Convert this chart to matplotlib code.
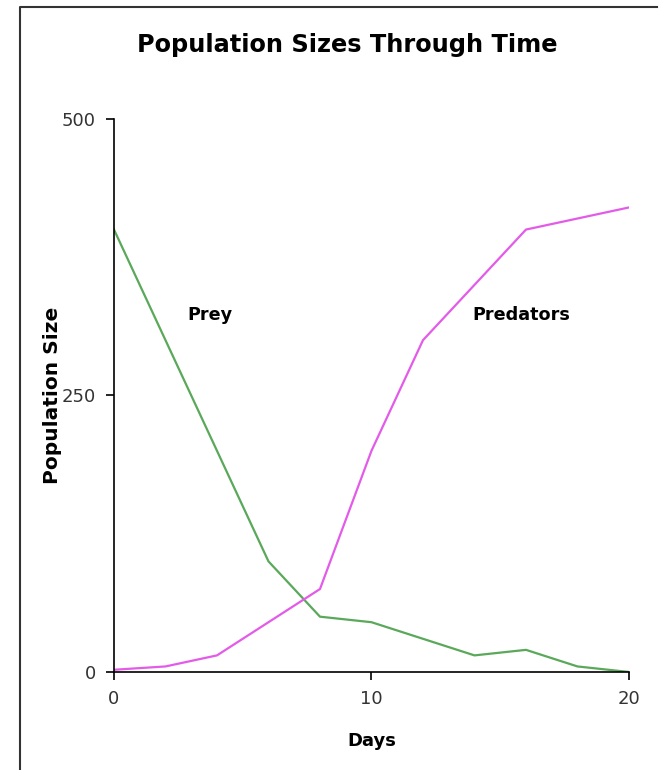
import matplotlib
matplotlib.use("Agg")
import matplotlib.pyplot as plt
from matplotlib.lines import Line2D

days = [0, 2, 4, 6, 8, 10, 12, 14, 16, 18, 20]
prey = [400, 300, 200, 100, 50, 45, 30, 15, 20, 5, 0]
predators = [2, 5, 15, 45, 75, 200, 300, 350, 400, 410, 420]
y_ticks = [0, 250, 500]
x_ticks = [0, 10, 20]

fig = plt.figure(figsize=(6.6, 7.7), dpi=100)
ax = fig.add_axes([0.1727, 0.1273, 0.7803, 0.7182])

ax.plot(days, prey, color="#5aa85a", lw=1.6)
ax.plot(days, predators, color="#e35be8", lw=1.6)

ax.set_xlim(0, 20)
ax.set_ylim(0, 500)
ax.set_xticks(x_ticks)
ax.set_yticks(y_ticks)
ax.spines["top"].set_visible(False)
ax.spines["right"].set_visible(False)
for s in ["left", "bottom"]:
    ax.spines[s].set_linewidth(1.2)
ax.tick_params(direction="out", length=6, width=1.2, labelsize=13,
               labelcolor="#333333", pad=7)

ax.set_xlabel("Days", fontsize=13, fontweight="bold", labelpad=17)
ax.set_ylabel("Population Size", fontsize=14.5, fontweight="bold", labelpad=0)

ax.text(3.73, 323, "Prey", fontsize=12.7, fontweight="bold", ha="center", va="center")
ax.text(15.8, 323, "Predators", fontsize=12.7, fontweight="bold", ha="center", va="center")

fig.text(0.526, 0.941, "Population Sizes Through Time", fontsize=17.3,
         fontweight="bold", ha="center", va="center")

# outer frame, only top and left edges show
x0, y0 = 20 / 660, 1 - 7 / 770
fig.lines.append(Line2D([x0, x0, 0.995], [0.0, y0, y0], transform=fig.transFigure,
                        color="#333333", lw=1.5))

fig.savefig("out.png", dpi=100)
